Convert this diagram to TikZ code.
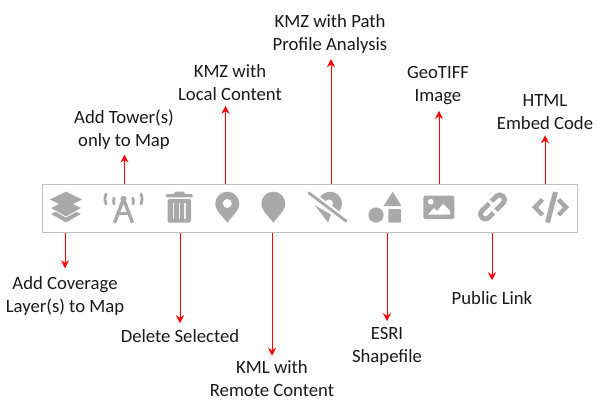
\documentclass[tikz,border=0pt]{standalone}
\usepackage{fontspec}
\usetikzlibrary{arrows.meta}
\setmainfont{Carlito}
\definecolor{icongray}{HTML}{A9A9A9}
\definecolor{barline}{HTML}{C0C0C0}
\tikzset{
	lbl/.style={align=center,font=\fontsize{18.7}{23}\selectfont,inner sep=0pt,text=black!90},
	redarrow/.style={red,line width=.9pt,-{Stealth[length=8pt,width=8pt]}},
	iconline/.style={draw=icongray,line width=3.4pt,line cap=round,line join=round}
}
\begin{document}
\begin{tikzpicture}[x=1pt,y=-1pt]
	\useasboundingbox (0,0) rectangle (598,407);
	\node[draw=barline,line width=1.1pt,minimum width=535pt,minimum height=48pt,inner sep=0pt] (bar) at (309.8,208.5) {};

	% labels
	\node[lbl] (addlayer) at (65,296) {Add Coverage\\Layer(s) to Map};
	\node[lbl] (addtower) at (124,129.5) {Add Tower(s)\\only to Map};
	\node[lbl] (delete) at (180,336) {Delete Selected};
	\node[lbl] (kmzlocal) at (230,82.5) {KMZ with\\Local Content};
	\node[lbl] (kmlremote) at (272,378.5) {KML with\\Remote Content};
	\node[lbl] (kmzpath) at (330,34) {KMZ with Path\\Profile Analysis};
	\node[lbl] (esri) at (387,346) {ESRI\\Shapefile};
	\node[lbl] (geotiff) at (438,86) {GeoTIFF\\Image};
	\node[lbl] (publink) at (492,298) {Public Link};
	\node[lbl] (htmlcode) at (545,112.5) {HTML\\Embed Code};

	% arrow ends
	\coordinate (layerx) at (65,0);
	\coordinate (towerx) at (124.5,0);
	\coordinate (deletex) at (180,0);
	\coordinate (localx) at (225.5,0);
	\coordinate (remotex) at (272,0);
	\coordinate (pathx) at (331,0);
	\coordinate (esrix) at (387,0);
	\coordinate (tiffx) at (439,0);
	\coordinate (linkx) at (492,0);
	\coordinate (htmlx) at (545,0);

	\draw[redarrow,shorten >=8pt] (bar.south -| layerx) -- (layerx |- addlayer.north);
	\draw[redarrow,shorten >=5pt] (bar.north -| towerx) -- (towerx |- addtower.south);
	\draw[redarrow,shorten >=6pt] (bar.south -| deletex) -- (deletex |- delete.north);
	\draw[redarrow,shorten >=5pt] (bar.north -| localx) -- (localx |- kmzlocal.south);
	\draw[redarrow,shorten >=4.5pt] (bar.south -| remotex) -- (remotex |- kmlremote.north);
	\draw[redarrow,shorten >=5.5pt] (bar.north -| pathx) -- (pathx |- kmzpath.south);
	\draw[redarrow,shorten >=5.5pt] (bar.south -| esrix) -- (esrix |- esri.north);
	\draw[redarrow,shorten >=5.5pt] (bar.north -| tiffx) -- (tiffx |- geotiff.south);
	\draw[redarrow,shorten >=11pt] (bar.south -| linkx) -- (linkx |- publink.north);
	\draw[redarrow,shorten >=5pt] (bar.north -| htmlx) -- (htmlx |- htmlcode.south);

	% layers
	\foreach \k in {214,208}{
		\fill[icongray,draw=white,line width=.8pt,line join=round] (50,\k) -- (66,\k-8) -- (82,\k) -- (66,\k+9) -- cycle;
	}
	\fill[icongray] (50,199.5) -- (66,191.7) -- (82,199.5) -- (66,207.5) -- cycle;

	% tower
	\draw[iconline,line cap=butt] (114.5,222.7) -- (123.5,199) -- (132.5,222.7);
	\draw[iconline,line cap=butt] (117,213.5) -- (130,213.5);
	\fill[icongray] (123.5,199) circle (3.2);
	\draw[iconline,line width=2.8pt] (106,194) .. controls (104.5,198) and (104.5,201) .. (106,204);
	\draw[iconline,line width=2.8pt] (141,194) .. controls (142.5,198) and (142.5,201) .. (141,204);
	\draw[iconline,line width=2.8pt] (114,198) .. controls (113.5,200) and (113.5,202) .. (114,204);
	\draw[iconline,line width=2.8pt] (133,198) .. controls (133.5,200) and (133.5,202) .. (133,204);

	% trash
	\fill[icongray,rounded corners=.8pt] (166,194) -- (174,194) -- (175,191.7) -- (184,191.7) -- (185,194) -- (192.7,194) -- (192.7,197.3) -- (166,197.3) -- cycle;
	\fill[icongray,rounded corners=1.5pt] (167.5,199) rectangle (191,222.7);
	\foreach \k in {173.5,179.3,185}{
		\fill[white!85!icongray] (\k-.8,203) rectangle (\k+.8,219);
	}

	% pins
	\foreach \k in {227.3,273.3}{
		\fill[icongray] (\k,222.7) .. controls (\k-3,218) and (\k-12,211) .. (\k-12,203.7) arc[start angle=180,end angle=360,radius=12] .. controls (\k+12,211) and (\k+3,218) .. (\k,222.7) -- cycle;
	}
	\fill[white] (227.3,203.5) circle (4.5);

	% no path
	\fill[icongray] (330,203.7) circle (12);
	\fill[white] (329,203.5) circle (4);
	\fill[white] (309,193) -- (346,221) -- (346,228) -- (309,228) -- cycle;
	\fill[icongray] (315,205.5) -- (328,222.5) -- (331,214.5) -- cycle;
	\draw[white,line width=7pt] (309,193) -- (346,221);
	\draw[iconline,line width=2.8pt] (309,193) -- (346,221);

	% shapes
	\fill[icongray] (392.7,191.7) -- (401.5,206) -- (383.5,206) -- cycle;
	\fill[icongray] (376,215) circle (7.6);
	\fill[icongray,rounded corners=.8pt] (388.3,209) rectangle (401,222.7);

	% image
	\fill[icongray,rounded corners=1.5pt] (423.3,195.7) rectangle (454.3,219);
	\fill[white] (430.7,201.7) circle (2.8);
	\fill[white] (428,214.5) -- (434,208) -- (437,211) -- (443,204) -- (450,211) -- (450,214.5) -- cycle;

	% link
	\begin{scope}[shift={(492.5,207)},rotate=45]
		\draw[iconline,line width=4.8pt,line cap=butt,rounded corners=4.4pt] (0,-4.8) -- (-15,-4.8) -- (-15,4.8) -- (-3.5,4.8);
		\draw[iconline,line width=4.8pt,line cap=butt,rounded corners=4.4pt] (0,4.8) -- (15,4.8) -- (15,-4.8) -- (3.5,-4.8);
	\end{scope}

	% code
	\draw[iconline,line width=4.4pt,line cap=butt,line join=miter] (542.5,199.5) -- (535,207.3) -- (542.5,215);
	\draw[iconline,line width=4.4pt,line cap=butt,line join=miter] (558.5,199.5) -- (566,207.3) -- (558.5,215);
	\draw[iconline,line width=5pt,line cap=butt] (555.5,192) -- (547.5,222.5);
\end{tikzpicture}
\end{document}
